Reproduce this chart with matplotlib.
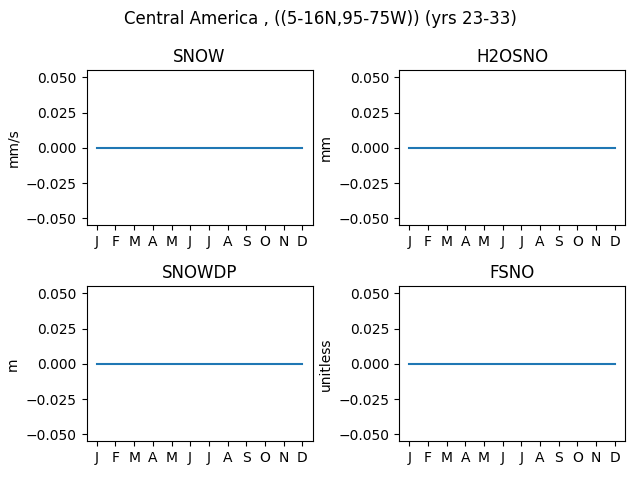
import numpy as np
import matplotlib
matplotlib.use("Agg")
import matplotlib.pyplot as plt

months = ["J", "F", "M", "A", "M", "J", "J", "A", "S", "O", "N", "D"]
variables = ["SNOW", "H2OSNO", "SNOWDP", "FSNO"]
units = ["mm/s", "mm", "m", "unitless"]

# monthly climatology, all zero over this region
snow = [0.0] * 12
h2osno = [0.0] * 12
snowdp = [0.0] * 12
fsno = [0.0] * 12
series = [snow, h2osno, snowdp, fsno]

fig, axes = plt.subplots(2, 2, figsize=(6.4, 4.8), dpi=100)
fig.suptitle("Central America , ((5-16N,95-75W)) (yrs 23-33)")

x = np.arange(1, 13)
for ax, name, unit, vals in zip(axes.flat, variables, units, series):
    ax.plot(x, vals)
    ax.set_title(name)
    ax.set_ylabel(unit)
    ax.set_xticks(x)
    ax.set_xticklabels(months)

plt.tight_layout()
plt.savefig("out.png")
plt.close()
